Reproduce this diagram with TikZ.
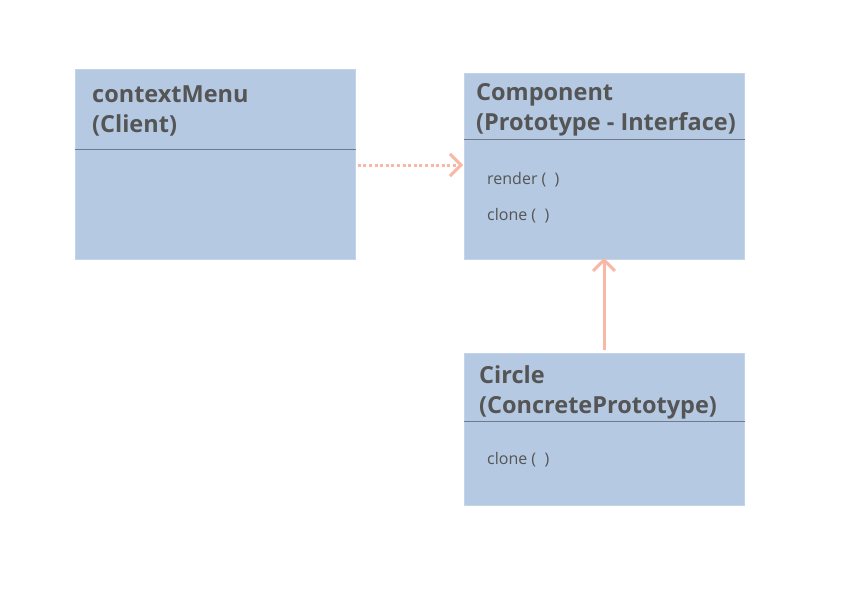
\documentclass[tikz,border=0pt]{standalone}
\usepackage{fontspec}
\setmainfont{Open Sans}
\usetikzlibrary{arrows.meta}
\definecolor{boxfill}{HTML}{B5C9E2}
\definecolor{boxedge}{HTML}{C4D4EA}
\definecolor{divline}{HTML}{6F7A88}
\definecolor{txt}{HTML}{555555}
\definecolor{salmon}{HTML}{F9B8A6}
\tikzset{
  umlbox/.style={fill=boxfill, draw=boxedge, line width=0.8pt, inner sep=0pt, anchor=north west},
  title/.style={anchor=west, inner sep=0pt, text=txt, font=\fontsize{23.5}{30}\selectfont\bfseries, align=left},
  method/.style={anchor=west, inner sep=0pt, text=txt, font=\fontsize{16}{18}\selectfont},
  divider/.style={draw=divline, line width=0.8pt},
  conn/.style={draw=salmon, line width=3pt, -{Straight Barb[length=11pt,width=22pt,line width=3pt]}},
  dotconn/.style={conn, dash pattern=on 3pt off 2.6pt}
}
\begin{document}
\begin{tikzpicture}[x=1pt,y=-1pt]
\useasboundingbox[fill=white] (0,0) rectangle (858,592);
% boxes
\node[umlbox, minimum width=280pt, minimum height=190pt] (client) at (75,69) {};
\node[umlbox, minimum width=280pt, minimum height=186pt] (comp) at (464,73) {};
\node[umlbox, minimum width=280pt, minimum height=152pt] (circ) at (464,353) {};
% dividers
\coordinate (dA) at (75,149);
\coordinate (dB) at (464,139);
\coordinate (dC) at (464,421);
\draw[divider] (client.west |- dA) -- (client.east |- dA);
\draw[divider] (comp.west |- dB) -- (comp.east |- dB);
\draw[divider] (circ.west |- dC) -- (circ.east |- dC);
% titles
\node[title] (t1) at (92,110.5) {contextMenu\\(Client)};
\node[title] (t2) at (476,110) {Component\\(Prototype - Interface)};
\node[title] (t3) at (479,392.5) {Circle\\(ConcretePrototype)};
% methods
\node[method] (m1) at (487,179.5) {render (\ \ )};
\node[method] (m2) at (487,215.5) {clone (\ \ )};
\node[method] (m3) at (487,459.5) {clone (\ \ )};
% connectors
\coordinate (ay) at (0,165);
\draw[dotconn] ([xshift=2pt]client.east |- ay) -- ([xshift=-1pt]comp.west |- ay);
\coordinate (ax) at (604,0);
\draw[conn] ([yshift=3pt]circ.north -| ax) -- ([yshift=2pt]comp.south -| ax);
\end{tikzpicture}
\end{document}
